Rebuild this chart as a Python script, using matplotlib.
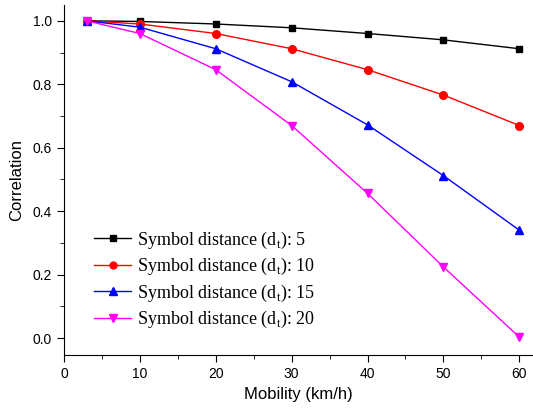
import matplotlib
matplotlib.use('Agg')
import matplotlib.pyplot as plt
from matplotlib.ticker import MultipleLocator

mobility = [3, 10, 20, 30, 40, 50, 60]
corr_d5 = [1.0, 0.998, 0.99, 0.978, 0.96, 0.94, 0.912]
corr_d10 = [1.0, 0.99, 0.96, 0.912, 0.846, 0.766, 0.67]
corr_d15 = [1.0, 0.98, 0.912, 0.808, 0.672, 0.512, 0.34]
corr_d20 = [1.0, 0.96, 0.846, 0.67, 0.456, 0.224, 0.003]
labels = ['5', '10', '15', '20']

plt.rcParams['font.family'] = ['Liberation Sans', 'DejaVu Sans']

fig = plt.figure(figsize=(5.33, 4.13), dpi=100)
ax = fig.add_axes([0.12, 0.14, 0.88, 0.848])

series = [(corr_d5, 'black', 's', 5), (corr_d10, 'red', 'o', 5.5),
          (corr_d15, 'blue', '^', 6), (corr_d20, 'magenta', 'v', 6)]
for (vals, col, mk, ms), lab in zip(series, labels):
    ax.plot(mobility, vals, color=col, marker=mk, markersize=ms, lw=1,
            label='Symbol distance (d$_\\mathregular{t}$): ' + lab)

ax.set_xlim(0, 61.8)
ax.set_ylim(-0.054, 1.05)
ax.xaxis.set_major_locator(MultipleLocator(10))
ax.xaxis.set_minor_locator(MultipleLocator(5))
ax.yaxis.set_major_locator(MultipleLocator(0.2))
ax.yaxis.set_minor_locator(MultipleLocator(0.1))
ax.yaxis.set_major_formatter(matplotlib.ticker.FormatStrFormatter('%.1f'))
ax.spines['top'].set_visible(False)
ax.spines['right'].set_visible(False)
ax.tick_params(which='major', length=5, labelsize=10)
ax.tick_params(which='minor', length=3)
ax.set_xlabel('Mobility (km/h)', fontsize=12)
ax.set_ylabel('Correlation', fontsize=12, labelpad=6)

ax.legend(loc='lower left', bbox_to_anchor=(0.03, 0.025), frameon=False,
          prop={'family': 'Liberation Serif', 'size': 13},
          handlelength=2.05, handletextpad=0.3, labelspacing=0.3,
          markerscale=0.9)

plt.savefig('out.png')
plt.close()
